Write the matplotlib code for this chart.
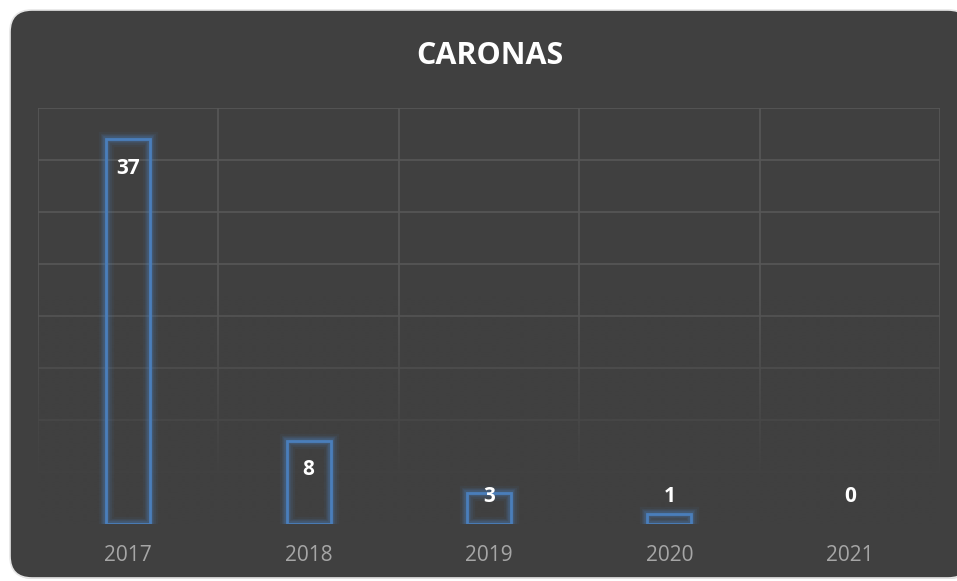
import numpy as np
import matplotlib.pyplot as plt
from matplotlib.colors import to_rgba
from matplotlib.patches import FancyBboxPatch

# data
years = ["2017", "2018", "2019", "2020", "2021"]
caronas = [37, 8, 3, 1, 0]

BG = "#404040"
GRID = "#575757"
BLUE = "#4a7ebb"
FONT = ["Open Sans", "DejaVu Sans"]

fig = plt.figure(figsize=(9.57, 5.81), dpi=100)
fig.patch.set_facecolor("white")

# rounded dark panel, drawn in pixel coords
bg = fig.add_axes([0, 0, 1, 1])
bg.set_xlim(0, 957)
bg.set_ylim(581, 0)
bg.axis("off")
bg.add_patch(FancyBboxPatch((11, 11), 960, 568, boxstyle="round,pad=0,rounding_size=22",
                            facecolor="#d0d0d0", edgecolor="none"))
bg.add_patch(FancyBboxPatch((10, 10), 960, 568, boxstyle="round,pad=0,rounding_size=22",
                            facecolor=BG, edgecolor="#e6e6e6", linewidth=1.2))
bg.text(490, 56, "CARONAS", color="white", fontsize=22, fontweight="bold",
        family=FONT, ha="center", va="center")

ax = fig.add_axes([38 / 957, 1 - 524 / 581, (940 - 38) / 957, (524 - 108) / 581])
ax.set_facecolor("none")
x = np.arange(len(years))
ax.set_xlim(-0.5, len(years) - 0.5)
ax.set_ylim(0, 40)

# grid
for v in range(5, 45, 5):
    ax.axhline(v, color=GRID, lw=1.2, zorder=1)
for b in np.arange(-0.5, len(years), 1.0):
    ax.axvline(b, color=GRID, lw=1.2, zorder=1)

# grid fades out toward the bottom
yy = np.linspace(40, 0, 400)
alpha = np.clip((22 - yy) / 18, 0, 1)
grad = np.zeros((400, 1, 4))
grad[..., :3] = np.array([0x40, 0x40, 0x40]) / 255
grad[:, 0, 3] = alpha
ax.imshow(grad, extent=(-0.5, len(years) - 0.5, 0, 40), aspect="auto", zorder=1.5,
          interpolation="bilinear")

# bars with glow (no outline for zero values)
w = 0.245
def edge_colors(a):
    return [to_rgba(BLUE, a) if v > 0 else (0, 0, 0, 0) for v in caronas]

for lw, a in [(11, 0.07), (8, 0.1), (6, 0.14), (4, 0.22)]:
    ax.bar(x, caronas, width=w, facecolor="none", edgecolor=edge_colors(a), linewidth=lw, zorder=2)
ax.bar(x, caronas, width=w, facecolor="none", edgecolor=edge_colors(1), linewidth=2, zorder=3)

for xi, v in zip(x, caronas):
    ax.text(xi, max(v - 2.8, 2.6), str(v), color="white", fontsize=15, fontweight="bold",
            family=FONT, ha="center", va="center", zorder=4)

ax.set_xticks(x)
ax.set_xticklabels(years, color="#a6a6a6", fontsize=15, family=FONT)
ax.tick_params(axis="x", length=0, pad=15)
ax.set_yticks([])
for s in ax.spines.values():
    s.set_visible(False)

fig.savefig("out.png", dpi=100, facecolor=fig.get_facecolor())
